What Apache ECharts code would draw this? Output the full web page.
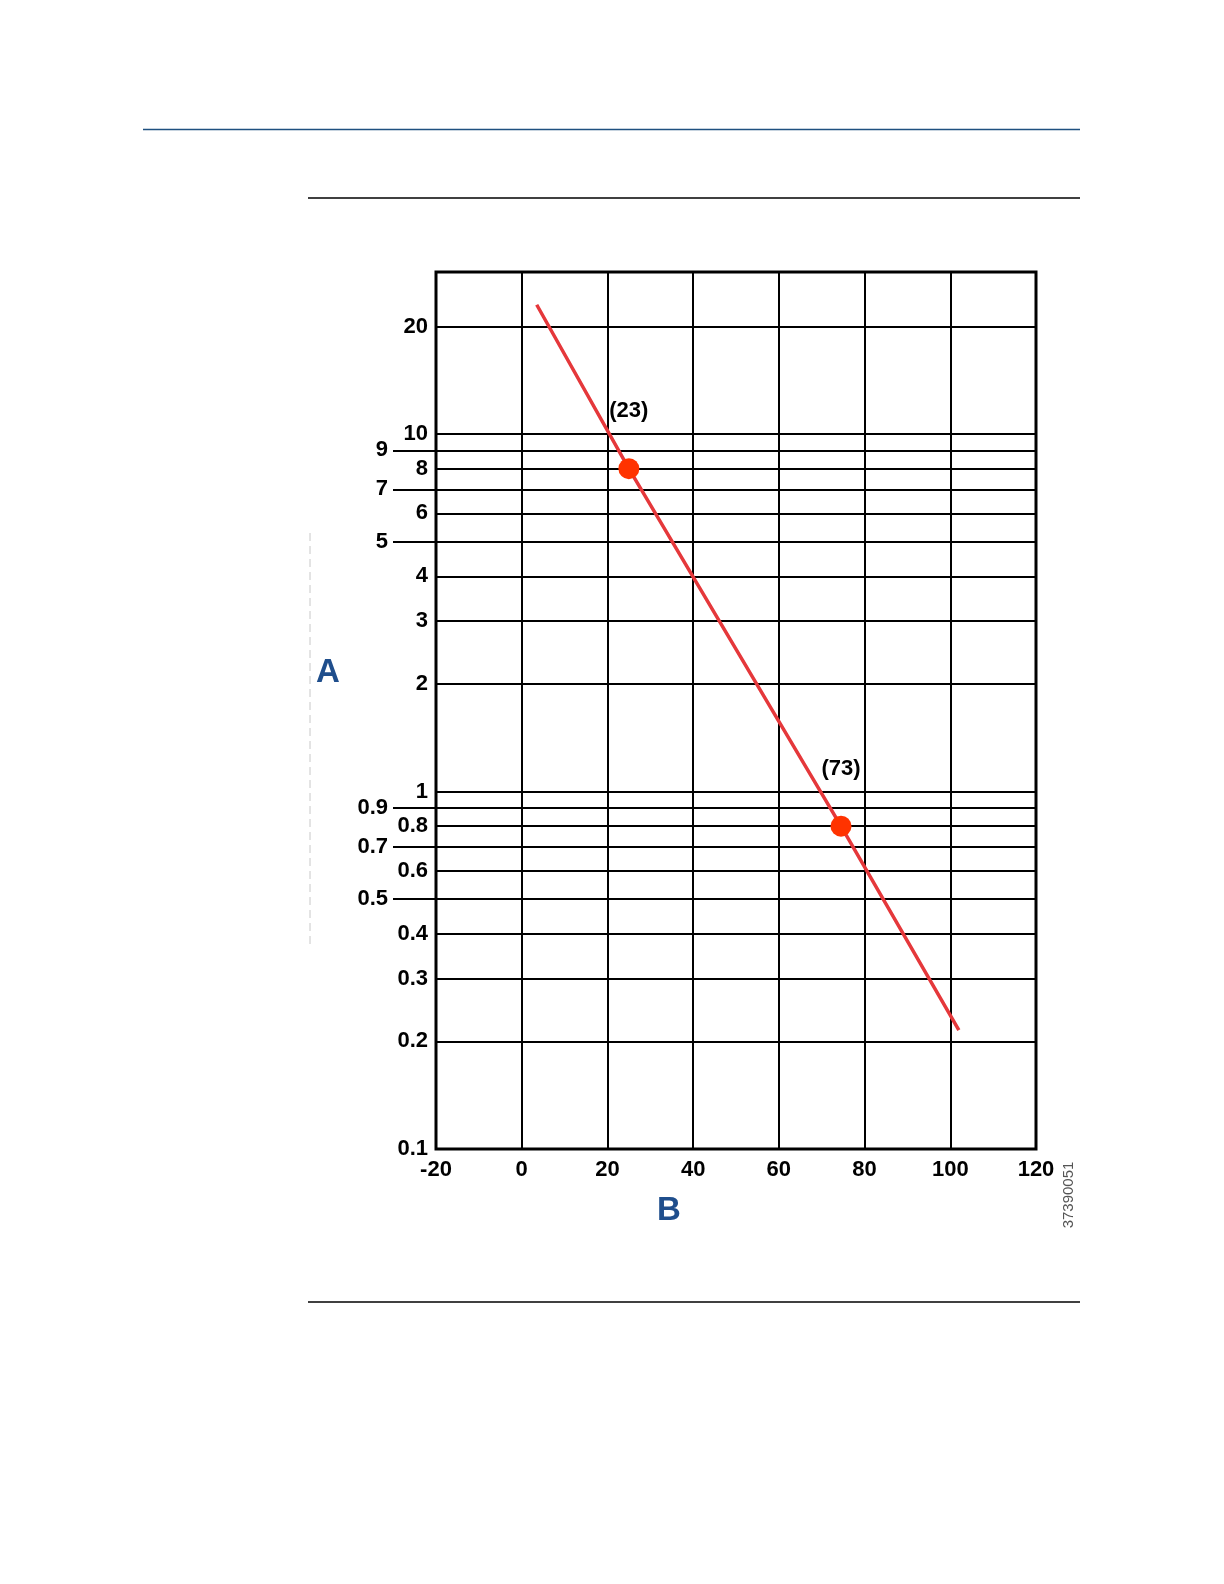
<!DOCTYPE html>
<html>
<head>
<meta charset="utf-8">
<script src="https://cdn.jsdelivr.net/npm/echarts@6/dist/echarts.min.js"></script>
<style>
  html, body { margin: 0; padding: 0; background: #ffffff; }
  #chart { width: 1224px; height: 1584px; }
</style>
</head>
<body>
<div id="chart"></div>
<script>
// ---- data ----
const xMin = -20;
const xMax = 120;
const xStep = 20;
const yMin = 0.1;
const yMax = 28.4;
const yGridValues = [20, 10, 9, 8, 7, 6, 5, 4, 3, 2, 1, 0.9, 0.8, 0.7, 0.6, 0.5, 0.4, 0.3, 0.2, 0.1];
const yInnerLabels = [20, 10, 8, 6, 4, 3, 2, 1, 0.8, 0.6, 0.4, 0.3, 0.2, 0.1];
const yOuterLabels = [9, 7, 5, 0.9, 0.7, 0.5];
const lineX = [3.5, 25, 74.5, 102];
const lineY = [23, 8, 0.8, 0.215];
const pointX = [25, 74.5];
const pointY = [8, 0.8];
const pointLabels = ['(23)', '(73)'];
const axisNameY = 'A';
const axisNameX = 'B';
const figureId = '37390051';

// ---- chart ----
const FONT = '"Liberation Sans", Arial, Helvetica, sans-serif';
const fmt = v => String(+(+v).toPrecision(3));

const lineData = lineX.map((x, i) => [x, lineY[i]]);
const pointData = pointX.map((x, i) => ({ value: [x, pointY[i]], label: { formatter: pointLabels[i] } }));

const chart = echarts.init(document.getElementById('chart'), null, { renderer: 'canvas' });

const labelStyle = { fontSize: 22, fontWeight: 'bold', color: '#000', fontFamily: FONT };

chart.setOption({
  backgroundColor: '#ffffff',
  animation: false,
  grid: {
    left: 436, top: 272, width: 600, height: 877,
    show: true, borderColor: '#000', borderWidth: 3, backgroundColor: 'transparent',
    containLabel: false
  },
  xAxis: {
    type: 'value', min: xMin, max: xMax, interval: xStep,
    axisLine: { show: false },
    axisTick: { show: false },
    axisLabel: Object.assign({ margin: 10, showMinLabel: true, showMaxLabel: true }, labelStyle),
    splitLine: { show: true, lineStyle: { color: '#000', width: 2 } }
  },
  yAxis: [
    {
      type: 'log', logBase: 10, min: yMin, max: yMax, position: 'left',
      axisLine: { show: false },
      axisTick: { show: false, customValues: yGridValues },
      axisLabel: Object.assign({ customValues: yInnerLabels, margin: 8, formatter: fmt }, labelStyle),
      splitLine: { show: true, lineStyle: { color: '#000', width: 2 } }
    },
    {
      type: 'log', logBase: 10, min: yMin, max: yMax, position: 'left',
      axisLine: { show: false },
      axisTick: { show: true, inside: false, length: 43, customValues: yOuterLabels, lineStyle: { color: '#000', width: 2 } },
      axisLabel: Object.assign({ customValues: yOuterLabels, margin: 48, formatter: fmt }, labelStyle),
      splitLine: { show: false }
    }
  ],
  series: [
    {
      type: 'line', yAxisIndex: 0, data: lineData,
      showSymbol: false, symbol: 'none',
      lineStyle: { color: '#e5383b', width: 3.5 },
      z: 5
    },
    {
      type: 'scatter', yAxisIndex: 0, data: pointData,
      symbol: 'circle', symbolSize: 21,
      itemStyle: { color: '#ff3300', opacity: 1 },
      label: {
        show: true, position: 'top', distance: 36, opacity: 1,
        fontSize: 22, fontWeight: 'bold', color: '#000', fontFamily: FONT
      },
      emphasis: { disabled: true },
      z: 6
    }
  ],
  graphic: [
    { type: 'line', shape: { x1: 143, y1: 129.5, x2: 1080, y2: 129.5 }, style: { stroke: '#1f5080', lineWidth: 1.5 } },
    { type: 'line', shape: { x1: 308, y1: 198, x2: 1080, y2: 198 }, style: { stroke: '#000', lineWidth: 1.5 } },
    { type: 'line', shape: { x1: 308, y1: 1302, x2: 1080, y2: 1302 }, style: { stroke: '#000', lineWidth: 1.5 } },
    { type: 'line', shape: { x1: 310, y1: 533, x2: 310, y2: 947 }, style: { stroke: '#c8c8c8', lineWidth: 1, lineDash: [8, 5] } },
    { type: 'text', x: 328, y: 673, style: { text: axisNameY, fontSize: 33, fontWeight: 'bold', fill: '#1f4e8c', fontFamily: FONT, textAlign: 'center', textVerticalAlign: 'middle' } },
    { type: 'text', x: 669, y: 1211, style: { text: axisNameX, fontSize: 33, fontWeight: 'bold', fill: '#1f4e8c', fontFamily: FONT, textAlign: 'center', textVerticalAlign: 'middle' } },
    { type: 'text', x: 1069, y: 1195, rotation: Math.PI / 2, style: { text: figureId, fontSize: 15, fill: '#555', fontFamily: FONT, textAlign: 'center', textVerticalAlign: 'middle' } }
  ]
});
</script>
</body>
</html>
